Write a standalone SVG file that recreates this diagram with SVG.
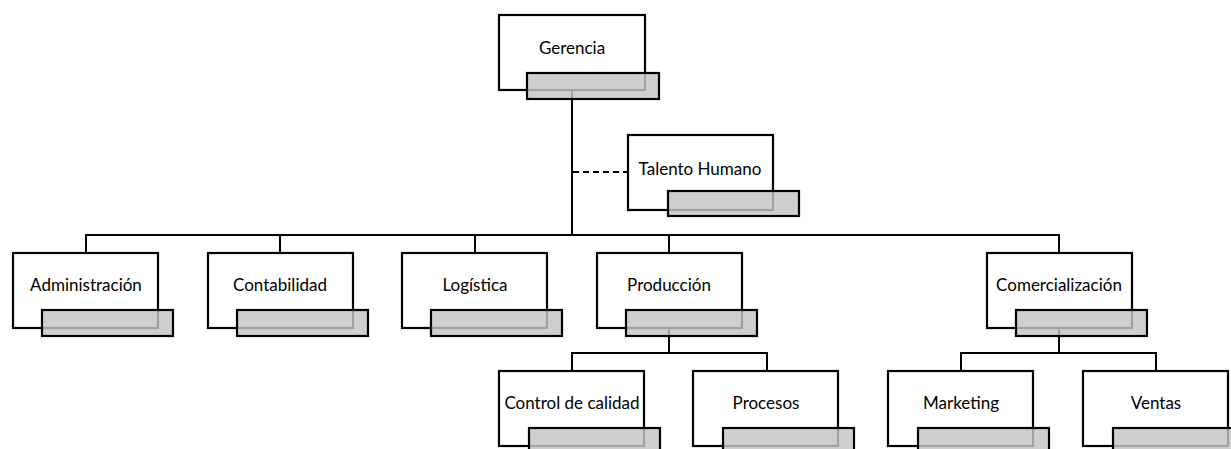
<svg xmlns="http://www.w3.org/2000/svg" width="1231" height="449" viewBox="0 0 1231 449">
<style>
.box{fill:#fff;stroke:#000;stroke-width:2.2}
.tab{fill:#c4c4c4;fill-opacity:0.82;stroke:#000;stroke-width:2.2}
.c{fill:none;stroke:#000;stroke-width:2}
text{font-family:Lato,"Open Sans",sans-serif;font-size:17px;fill:#000;text-anchor:middle}
</style>
<rect width="1231" height="449" fill="#fff"/>
<g id="connectors">
<path class="c" d="M572 90V235" stroke-width="3"/>
<path class="c" d="M573 172H628" stroke-dasharray="6,4"/>
<path class="c" d="M86 253V235H1059V253M280 235V253M475 235V253M669 235V253"/>
<path class="c" d="M669 322V353M572 371V353H767V371"/>
<path class="c" d="M1059 322V353M961 371V353H1156V371"/>
</g>
<g id="gerencia"><rect class="box" x="499" y="15" width="146" height="75"/><rect class="tab" x="527" y="73" width="132" height="26"/><text x="572" y="54">Gerencia</text></g>
<g id="talento"><rect class="box" x="628" y="135" width="145" height="75"/><rect class="tab" x="668" y="191" width="131" height="25"/><text x="700" y="175">Talento Humano</text></g>
<g id="administracion"><rect class="box" x="13" y="253" width="145" height="75"/><rect class="tab" x="42" y="310" width="131" height="26"/><text x="86" y="291">Administración</text></g>
<g id="contabilidad"><rect class="box" x="208" y="253" width="145" height="75"/><rect class="tab" x="237" y="310" width="131" height="26"/><text x="280" y="291">Contabilidad</text></g>
<g id="logistica"><rect class="box" x="402" y="253" width="145" height="75"/><rect class="tab" x="431" y="310" width="131" height="26"/><text x="475" y="291">Logística</text></g>
<g id="produccion"><rect class="box" x="597" y="253" width="145" height="75"/><rect class="tab" x="626" y="310" width="131" height="26"/><text x="669" y="291">Producción</text></g>
<g id="comercializacion"><rect class="box" x="987" y="253" width="145" height="75"/><rect class="tab" x="1016" y="310" width="131" height="26"/><text x="1059" y="291">Comercialización</text></g>
<g id="control"><rect class="box" x="499" y="371" width="145" height="75"/><rect class="tab" x="529" y="428" width="131" height="26"/><text x="572" y="409">Control de calidad</text></g>
<g id="procesos"><rect class="box" x="693" y="371" width="145" height="75"/><rect class="tab" x="723" y="428" width="131" height="26"/><text x="766" y="409">Procesos</text></g>
<g id="marketing"><rect class="box" x="888" y="371" width="145" height="75"/><rect class="tab" x="918" y="428" width="131" height="26"/><text x="961" y="409">Marketing</text></g>
<g id="ventas"><rect class="box" x="1083" y="371" width="145" height="75"/><rect class="tab" x="1113" y="428" width="131" height="26"/><text x="1156" y="409">Ventas</text></g>
</svg>
